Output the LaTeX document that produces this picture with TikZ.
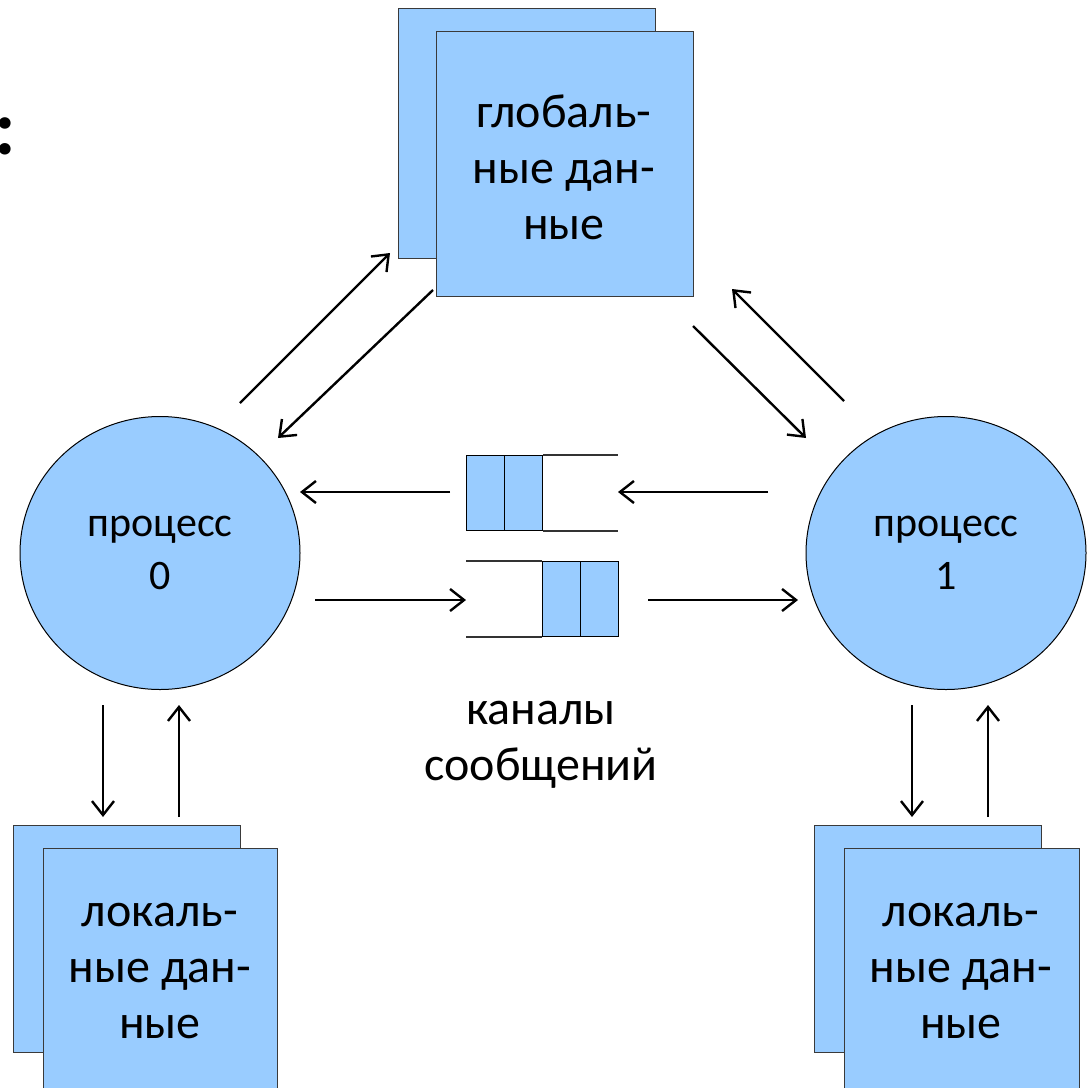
\documentclass[tikz,border=0pt]{standalone}
\usepackage{fontspec}
\setmainfont{Carlito}
\usetikzlibrary{arrows.meta,shapes.geometric}
\definecolor{paleblue}{HTML}{99CCFF}
\definecolor{edgegrey}{HTML}{3A3A3A}
\begin{document}
\begin{tikzpicture}[x=1pt,y=-1pt,
  sheet/.style={draw=edgegrey,line width=1.2pt,fill=paleblue,anchor=north west,inner sep=0pt},
  proc/.style={ellipse,draw=black,line width=1pt,fill=paleblue,minimum width=280pt,minimum height=273pt,inner sep=0pt,align=center,font=\fontsize{42}{53}\selectfont},
  label/.style={align=center,font=\fontsize{48}{56}\selectfont},
  cell/.style={draw=black,line width=1.2pt,fill=paleblue,anchor=north west,minimum width=38pt,minimum height=75pt,inner sep=0pt},
  rail/.style={draw=black!80,line width=1.5pt},
  flow/.style={draw=black,line width=2.4pt,-{Straight Barb[length=14pt,width=22pt,line width=2.4pt]}}]
\useasboundingbox (0,0) rectangle (1089,1087);
\clip (0,0) rectangle (1089,1087);
\fill[white] (0,0) rectangle (1089,1087);

% colon closing the heading at the left edge
\node[anchor=east,inner sep=0pt,font=\fontsize{78}{78}\selectfont\bfseries] (colon) at (16,136) {\makebox[14pt][r]{:}};

% global data: two stacked sheets
\node[sheet,minimum width=257pt,minimum height=250pt] (gb) at (398,8) {};
\node[sheet,minimum width=257pt,minimum height=265pt] (g) at (436,31) {};
\node[label] (gt) at (564,167) {глобаль-\\ные дан-\\ные};

% local data of process 0
\node[sheet,minimum width=227pt,minimum height=227pt] (l0b) at (13,825) {};
\node[sheet,minimum width=234pt,minimum height=260pt] (l0) at (43,848) {};
\node[label] (l0t) at (160,971) {локаль-\\ные дан-\\ные};

% local data of process 1
\node[sheet,minimum width=227pt,minimum height=227pt] (l1b) at (814,825) {};
\node[sheet,minimum width=235pt,minimum height=260pt] (l1) at (844,848) {};
\node[label] (l1t) at (961,971) {локаль-\\ные дан-\\ные};

% processes
\node[proc] (p0) at (160,553) {процесс\\0};
\node[proc] (p1) at (946,553) {процесс\\1};

% message channel 1 -> 0
\node[cell] (qa1) at (466,455) {};
\node[cell] (qa2) at (504,455) {};
\draw[rail] (qa2.north east) -- ++(75,0) coordinate (qaend1);
\draw[rail] (qa2.south east) -- ++(75,0) coordinate (qaend2);

% message channel 0 -> 1
\node[cell] (qb1) at (542,561) {};
\node[cell] (qb2) at (580,561) {};
\draw[rail] (qb1.north west) -- ++(-76,0) coordinate (qbend1);
\draw[rail] (qb1.south west) -- ++(-76,0) coordinate (qbend2);

\node[label] (ch) at (541,745) {каналы\\сообщений};

% arrow end points
\coordinate (a1s) at (240,403); \coordinate (a1e) at (390,253);
\coordinate (a2s) at (433,290); \coordinate (a2e) at (278,438);
\coordinate (a3s) at (693,326); \coordinate (a3e) at (806,438);
\coordinate (a4s) at (844,401); \coordinate (a4e) at (732,289);
\coordinate (h1s) at (450,492); \coordinate (h1e) at (300,492);
\coordinate (h2s) at (768,492); \coordinate (h2e) at (618,492);
\coordinate (h3s) at (315,600); \coordinate (h3e) at (466,600);
\coordinate (h4s) at (648,600); \coordinate (h4e) at (798,600);
\coordinate (v1s) at (103,705); \coordinate (v1e) at (103,817);
\coordinate (v2s) at (179,817); \coordinate (v2e) at (179,705);
\coordinate (v3s) at (912,705); \coordinate (v3e) at (912,817);
\coordinate (v4s) at (988,817); \coordinate (v4e) at (988,705);

\foreach \s/\e in {a1s/a1e,a2s/a2e,a3s/a3e,a4s/a4e,h1s/h1e,h2s/h2e,h3s/h3e,h4s/h4e,v1s/v1e,v2s/v2e,v3s/v3e,v4s/v4e}
  \draw[flow] (\s) -- (\e);
\end{tikzpicture}
\end{document}
